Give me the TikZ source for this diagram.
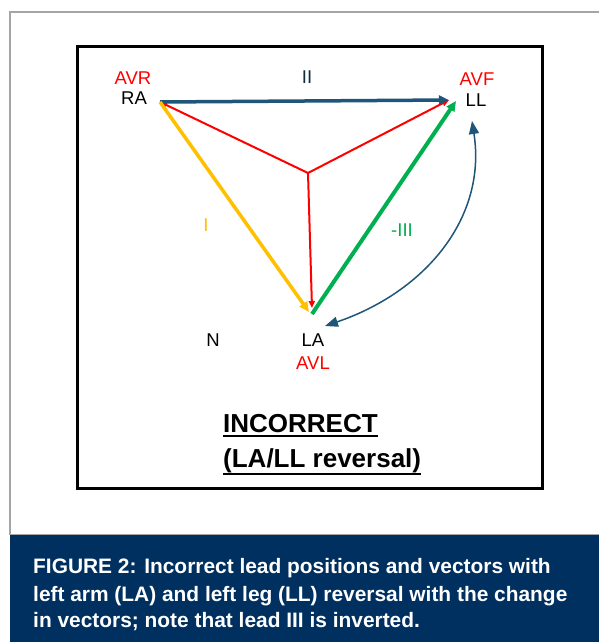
\documentclass[tikz,border=0pt]{standalone}
\usepackage{fontspec}
\setmainfont{Liberation Sans}
\usetikzlibrary{arrows.meta}
\definecolor{bandblue}{RGB}{0,48,96}
\definecolor{framegray}{RGB}{165,165,165}
\definecolor{iiblue}{RGB}{30,85,120}
\definecolor{leadyellow}{RGB}{255,192,0}
\definecolor{leadgreen}{RGB}{0,176,80}
\definecolor{leadred}{RGB}{255,0,0}
\begin{document}
\begin{tikzpicture}[x=1pt,y=-1pt,
  lbl/.style={inner sep=0pt,font=\fontsize{18.5}{20}\selectfont},
  redv/.style={draw=leadred,line width=2pt,-{Triangle[length=7pt,width=6pt]}},
  iiv/.style={draw=iiblue,line width=3.5pt,-{Triangle[length=10pt,width=9pt]}},
  yelv/.style={draw=leadyellow,line width=3.5pt,-{Triangle[length=10pt,width=9pt]}},
  grnv/.style={draw=leadgreen,line width=4pt,-{Triangle[length=10pt,width=9pt]}},
  swapv/.style={draw=iiblue,line width=1.5pt,{Triangle[length=13pt,width=10pt]}-{Triangle[length=13pt,width=10pt]}},
  ttl/.style={inner sep=0pt,anchor=base west,font=\fontsize{26}{30}\selectfont\bfseries},
  captext/.style={inner sep=0pt,anchor=base west,text=white,font=\fontsize{20.9}{27}\selectfont\bfseries}]
\useasboundingbox (0,0) rectangle (599,642);
\fill[white] (0,0) rectangle (599,642);
% outer frame and caption band
\draw[framegray,line width=1.5pt] (601,12) -- (10,12) -- (10,535);
\fill[bandblue] (10,535) rectangle (599,642);
\draw[framegray,line width=1.5pt] (10,534.5) -- (599,534.5);
% inner box
\draw[line width=3pt] (77,47) rectangle (542,488);
% points
\coordinate (ra) at (160,102);
\coordinate (ll) at (449,100);
\coordinate (c) at (308,173);
\coordinate (laR) at (312,308);
\coordinate (laY) at (309,312);
\coordinate (laG) at (312,314);
\coordinate (llG) at (456,101);
\coordinate (cb) at (325,326);
\coordinate (ct) at (472,121);
% red vectors
\draw[redv] (c) -- (ra);
\draw[redv] (c) -- (ll);
\draw[redv] (c) -- (laR);
% lead vectors
\draw[iiv] (ra) -- (ll);
\draw[yelv] (ra) -- (laY);
\draw[grnv] (laG) -- (llG);
% swap arrow
\draw[swapv] (cb) .. controls (425,292) and (487,218) .. (ct);
% labels
\node[lbl,text=leadred] (avr) at (133,78) {AVR};
\node[lbl] (ralbl) at (134,98) {RA};
\node[lbl,text=iiblue!50!black] (ii) at (307,77) {II};
\node[lbl,text=leadred] (avf) at (477,79) {AVF};
\node[lbl] (lllbl) at (476,100) {LL};
\node[lbl,text=leadyellow] (ilbl) at (206,225) {I};
\node[lbl,text=leadgreen] (iii) at (402,230) {-III};
\node[lbl] (nlbl) at (213,340) {N};
\node[lbl] (lalbl) at (313,340) {LA};
\node[lbl,text=leadred] (avl) at (313,363) {AVL};
% title
\node[ttl] (t1) at (223,432) {INCORRECT};
\node[ttl] (t2) at (223,467) {(LA/LL reversal)};
\draw[line width=1.6pt] ([yshift=-4pt]t1.base west) -- ([yshift=-4pt]t1.base east);
\draw[line width=1.6pt] ([yshift=-7pt]t2.base west) -- ([yshift=-7pt]t2.base east);
% caption
\node[captext] (c1) at (33,573) {FIGURE 2: Incorrect lead positions and vectors with};
\node[captext] (c2) at (33,601) {left arm (LA) and left leg (LL) reversal with the change};
\node[captext] (c3) at (33,627) {in vectors; note that lead III is inverted.};
\end{tikzpicture}
\end{document}
